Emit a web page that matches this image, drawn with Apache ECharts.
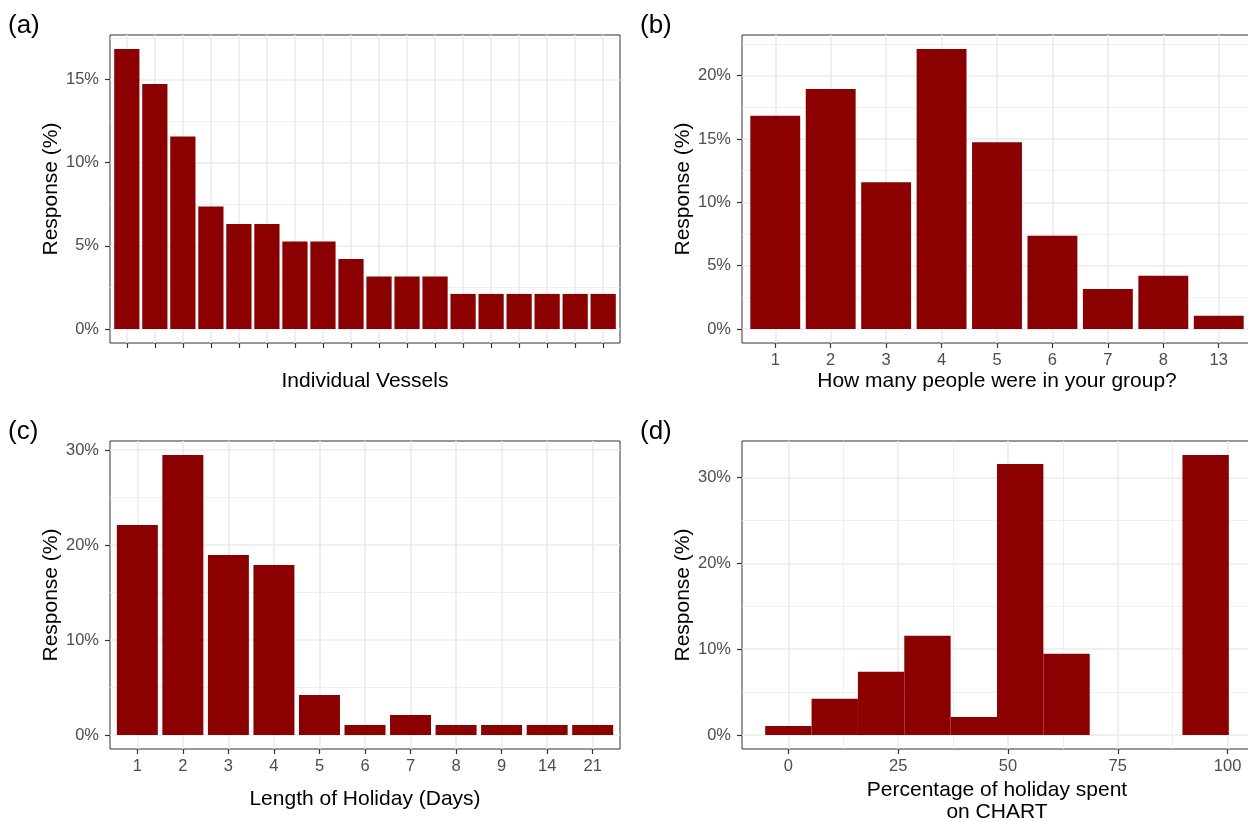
<!DOCTYPE html>
<html>
<head>
<meta charset="utf-8">
<script src="https://cdn.jsdelivr.net/npm/echarts@6/dist/echarts.min.js"></script>
<style>
html,body{margin:0;padding:0;background:#fff;}
#chart{width:1248px;height:821px;}
</style>
</head>
<body>
<div id="chart"></div>
<script>
// ---- Data (percent of responses) ----
const vesselCats = ['V1','V2','V3','V4','V5','V6','V7','V8','V9','V10','V11','V12','V13','V14','V15','V16','V17','V18'];
const vesselVals = [16.84, 14.74, 11.58, 7.37, 6.32, 6.32, 5.26, 5.26, 4.21, 3.16, 3.16, 3.16, 2.11, 2.11, 2.11, 2.11, 2.11, 2.11];

const groupCats = ['1','2','3','4','5','6','7','8','13'];
const groupVals = [16.84, 18.95, 11.58, 22.11, 14.74, 7.37, 3.16, 4.21, 1.05];

const holidayCats = ['1','2','3','4','5','6','7','8','9','14','21'];
const holidayVals = [22.11, 29.47, 18.95, 17.89, 4.21, 1.05, 2.11, 1.05, 1.05, 1.05, 1.05];

const chartBinCenters = [0, 10.56, 21.11, 31.67, 42.22, 52.78, 63.33, 73.89, 84.44, 95];
const chartBinVals = [1.05, 4.21, 7.37, 11.58, 2.11, 31.58, 9.47, 0, 0, 32.63];
const chartBinWidth = 10.556;

const yTicksA = [0, 5, 10, 15];
const yTicksB = [0, 5, 10, 15, 20];
const yTicksC = [0, 10, 20, 30];
const yTicksD = [0, 10, 20, 30];
const xTicksD = [0, 25, 50, 75, 100];

// ---- Styles ----
const FONT = "'Liberation Sans', Arial, sans-serif";
const BAR = '#8B0000';
const GRIDC = '#EBEBEB';
const TICKC = '#333333';
const LABELC = '#4D4D4D';

const panels = [
  {left:110, top:35},
  {left:742, top:35},
  {left:110, top:441},
  {left:742, top:441}
];
const PW = 510, PH = 308;

const grids = panels.map(p => ({
  left: p.left, top: p.top, width: PW, height: PH,
  show: true, borderColor: '#333333', borderWidth: 1, backgroundColor: '#ffffff',
  containLabel: false, outerBoundsMode: 'none'
}));

function yAxis(idx, vals, ticks) {
  const mx = Math.max(...vals);
  const step = ticks[1] - ticks[0];
  return {
    type: 'value', gridIndex: idx, position: 'left',
    min: -0.05 * mx, max: 1.05 * mx,
    minInterval: step, maxInterval: step,
    name: 'Response (%)', nameLocation: 'middle', nameGap: 48,
    nameTextStyle: {fontFamily: FONT, fontSize: 21, color: '#000'},
    axisLine: {show: false, onZero: false},
    axisTick: {show: true, length: 5, customValues: ticks, lineStyle: {color: TICKC, width: 1.2}},
    axisLabel: {show: true, customValues: ticks, margin: 11, fontFamily: FONT, fontSize: 16.5, color: LABELC,
      formatter: v => v + '%'},
    splitLine: {show: true, lineStyle: {color: GRIDC, width: 1.6}},
    minorTick: {show: false, splitNumber: 2},
    minorSplitLine: {show: true, lineStyle: {color: GRIDC, width: 0.8}}
  };
}

function catXAxis(idx, cats, title, showLabels, gap) {
  const idxs = cats.map((c, i) => i + 1);
  return {
    type: 'value', gridIndex: idx, position: 'bottom',
    min: 0.4, max: cats.length + 0.6,
    minInterval: 1, maxInterval: 1,
    name: title, nameLocation: 'middle', nameGap: gap,
    nameTextStyle: {fontFamily: FONT, fontSize: 21, color: '#000'},
    axisLine: {show: false, onZero: false},
    axisTick: {show: true, length: 5, customValues: idxs, lineStyle: {color: TICKC, width: 1.2}},
    axisLabel: {show: true, customValues: idxs, margin: 9, fontFamily: FONT, fontSize: 16.5, color: LABELC,
      formatter: v => showLabels ? (cats[Math.round(v) - 1] || '') : ''},
    splitLine: {show: true, lineStyle: {color: GRIDC, width: 1.6}},
    minorSplitLine: {show: false}
  };
}

function barRender(halfW) {
  return function (params, api) {
    const x = api.value(0), y = api.value(1);
    if (!y) return null;
    const p0 = api.coord([x - halfW, y]);
    const p1 = api.coord([x + halfW, 0]);
    return {
      type: 'rect',
      shape: {x: p0[0], y: p0[1], width: p1[0] - p0[0], height: p1[1] - p0[1]},
      style: {fill: BAR}
    };
  };
}

function catSeries(idx, vals) {
  return {
    type: 'custom', xAxisIndex: idx, yAxisIndex: idx,
    renderItem: barRender(0.45), clip: true,
    encode: {x: 0, y: 1},
    data: vals.map((v, i) => [i + 1, v])
  };
}

const dLo = chartBinCenters[0] - chartBinWidth / 2;
const dHi = chartBinCenters[chartBinCenters.length - 1] + chartBinWidth / 2;
const dPad = 0.05 * (dHi - dLo);

const option = {
  backgroundColor: '#ffffff',
  animation: false,
  title: [
    {text: '(a)', left: 8, top: 13},
    {text: '(b)', left: 640, top: 13},
    {text: '(c)', left: 8, top: 419},
    {text: '(d)', left: 640, top: 419}
  ].map(t => Object.assign(t, {padding: 0, textStyle: {fontFamily: FONT, fontSize: 26, fontWeight: 'normal', color: '#000'}})),
  grid: grids,
  xAxis: [
    catXAxis(0, vesselCats, 'Individual Vessels', false, 28),
    catXAxis(1, groupCats, 'How many people were in your group?', true, 28),
    catXAxis(2, holidayCats, 'Length of Holiday (Days)', true, 40),
    {
      type: 'value', gridIndex: 3, position: 'bottom',
      min: dLo - dPad, max: dHi + dPad,
      minInterval: 25, maxInterval: 25,
      name: 'Percentage of holiday spent\non CHART', nameLocation: 'middle', nameGap: 30,
      nameTextStyle: {fontFamily: FONT, fontSize: 21, color: '#000', lineHeight: 22},
      axisLine: {show: false, onZero: false},
      axisTick: {show: true, length: 5, customValues: xTicksD, lineStyle: {color: TICKC, width: 1.2}},
      axisLabel: {show: true, customValues: xTicksD, margin: 9, fontFamily: FONT, fontSize: 16.5, color: LABELC},
      splitLine: {show: true, lineStyle: {color: GRIDC, width: 1.6}},
      minorTick: {show: false, splitNumber: 2},
      minorSplitLine: {show: true, lineStyle: {color: GRIDC, width: 0.8}}
    }
  ],
  yAxis: [
    yAxis(0, vesselVals, yTicksA),
    yAxis(1, groupVals, yTicksB),
    yAxis(2, holidayVals, yTicksC),
    yAxis(3, chartBinVals, yTicksD)
  ],
  series: [
    catSeries(0, vesselVals),
    catSeries(1, groupVals),
    catSeries(2, holidayVals),
    {
      type: 'custom', xAxisIndex: 3, yAxisIndex: 3,
      renderItem: barRender(chartBinWidth / 2), clip: true,
      encode: {x: 0, y: 1},
      data: chartBinCenters.map((c, i) => [c, chartBinVals[i]])
    }
  ]
};

const chart = echarts.init(document.getElementById('chart'), null, {renderer: 'canvas'});
chart.setOption(option);
</script>
</body>
</html>
